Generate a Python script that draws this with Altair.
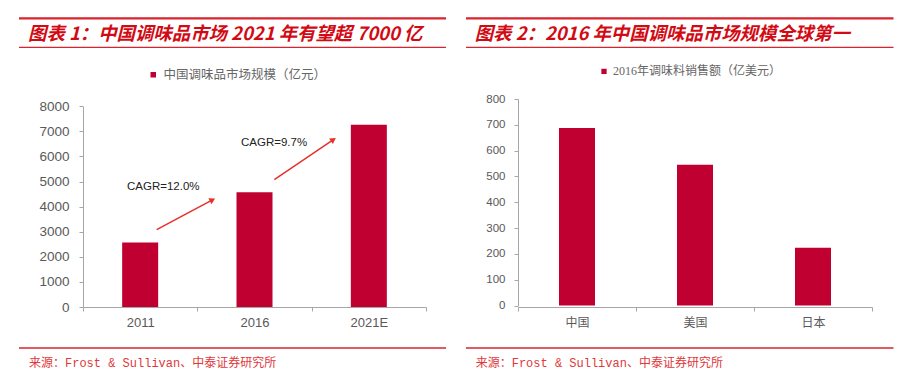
import math
import altair as alt
import pandas as pd

# ---------------- data ----------------
years = ["2011", "2016", "2021E"]
market_size = [2570, 4570, 7260]          # 亿元
countries = ["中国", "美国", "日本"]
sales_2016 = [688, 545, 224]               # 亿美元
cagr_labels = ["CAGR=12.0%", "CAGR=9.7%"]

title1 = "图表 1：中国调味品市场 2021 年有望超 7000 亿"
title2 = "图表 2：2016 年中国调味品市场规模全球第一"
legend1 = "中国调味品市场规模（亿元）"
legend2 = "2016年调味料销售额（亿美元）"
source_text = "来源：Frost & Sullivan、中泰证券研究所"

# ---------------- styles ----------------
BAR = "#C00030"
TITLE_RED = "#D20A14"
LINE_RED = "#D9232D"
SRC_RED = "#E0383B"
ARROW_RED = "#E8302B"
GREY = "#595959"
AXIS_GREY = "#A6A6A6"
LEGEND_GREY = "#666666"
CJK = "Noto Sans CJK SC"
SRC_FONT = "Liberation Mono, Noto Sans CJK SC"

one = pd.DataFrame({"k": [0]})


def hline(x1, x2, y, w):
    return alt.Chart(one).mark_rule(color=LINE_RED, strokeWidth=w).encode(
        x=alt.value(x1), x2=alt.value(x2), y=alt.value(y))


def label(text, x, y, **kw):
    return alt.Chart(pd.DataFrame({"t": [text]})).mark_text(
        align="left", baseline="middle", **kw).encode(
        text="t:N", x=alt.value(x), y=alt.value(y))


def arrow(x0, y0, x1, y1):
    dx, dy = x1 - x0, y1 - y0
    L = math.hypot(dx, dy)
    ux, uy = dx / L, dy / L
    ang = math.degrees(math.atan2(dx, -dy))
    bx, by = x1 - 4 * ux, y1 - 4 * uy
    line = alt.Chart(one).mark_rule(color=ARROW_RED, strokeWidth=1.5).encode(
        x=alt.value(x0), y=alt.value(y0), x2=alt.value(bx), y2=alt.value(by))
    head = alt.Chart(one).mark_point(shape="triangle-up", filled=True, size=45,
                                     angle=ang, color=ARROW_RED, opacity=1).encode(
        x=alt.value(bx), y=alt.value(by))
    return line + head


def x_axis(fs, pad, font):
    return alt.Axis(title=None, labelAngle=0, tickBand="extent", ticks=True, tickSize=4,
                    labelPadding=pad, labelFontSize=fs, labelFont=font, labelColor=GREY,
                    domainColor=AXIS_GREY, tickColor=AXIS_GREY)


def y_axis(vals, fs, pad):
    return alt.Axis(title=None, values=vals, format="d", grid=False, tickSize=4,
                    labelPadding=pad, labelFontSize=fs, labelFont="Liberation Sans",
                    labelColor=GREY, domainColor=AXIS_GREY, tickColor=AXIS_GREY)


# common plot origin (page y ~98) for both panels
H = 208

# ---------------- panel 1 ----------------
W1 = 343
df1 = pd.DataFrame({"year": years, "value": market_size, "series": legend1})
bars1 = alt.Chart(df1).mark_bar(size=36).encode(
    x=alt.X("year:N", sort=years, scale=alt.Scale(paddingInner=0, paddingOuter=0),
            axis=x_axis(13, 5, "Liberation Sans")),
    y=alt.Y("value:Q", scale=alt.Scale(domain=[0, 8000], nice=False, range=[H, 7.2]),
            axis=y_axis(list(range(0, 8001, 1000)), 13.5, 10)),
    color=alt.Color("series:N", scale=alt.Scale(range=[BAR]),
                    legend=alt.Legend(orient="none", legendX=64, legendY=-30.5, title=None,
                                      symbolType="square", symbolSize=30, symbolStrokeWidth=0,
                                      labelFont=CJK, labelFontSize=12.5, labelColor=LEGEND_GREY,
                                      labelOffset=4, padding=0, labelLimit=400)),
)
panel1 = alt.layer(
    bars1,
    hline(-64, 363, -80.6, 2.2),
    hline(-64, 363, -51.6, 1.2),
    hline(-64, 363, 249, 1.6),
    label(title1, -55, -65, font=CJK, fontSize=18.4, fontWeight="bold",
          fontStyle="italic", color=TITLE_RED),
    label(source_text, -54, 264, font=SRC_FONT, fontSize=12, color=SRC_RED),
    label(cagr_labels[0], 44, 88.4, font="Liberation Sans", fontSize=11.5, color="#222222"),
    label(cagr_labels[1], 158, 44, font="Liberation Sans", fontSize=11.5, color="#222222"),
    arrow(73.7, 130.7, 133, 99),
    arrow(191.3, 80.7, 253.7, 38.4),
).properties(width=W1, height=H)

# ---------------- panel 2 ----------------
W2 = 354
df2 = pd.DataFrame({"country": countries, "value": sales_2016, "series": legend2})
bars2 = alt.Chart(df2).mark_bar(size=36).encode(
    x=alt.X("country:N", sort=countries, scale=alt.Scale(paddingInner=0, paddingOuter=0),
            axis=x_axis(12, 6, CJK)),
    y=alt.Y("value:Q", scale=alt.Scale(domain=[0, 800], nice=False, range=[H - 1.5, 0]),
            axis=y_axis(list(range(0, 801, 100)), 11.5, 9)),
    color=alt.Color("series:N", scale=alt.Scale(range=[BAR]),
                    legend=alt.Legend(orient="none", legendX=80, legendY=-33.6, title=None,
                                      symbolType="square", symbolSize=28, symbolStrokeWidth=0,
                                      labelFont="Liberation Serif, Noto Sans CJK SC",
                                      labelFontSize=12, labelColor=LEGEND_GREY,
                                      labelOffset=3, padding=0, labelLimit=400)),
)
panel2 = alt.layer(
    bars2,
    hline(-52, 375.5, -80.6, 2.2),
    hline(-52, 375.5, -51.6, 1.2),
    hline(-52, 375.5, 249, 1.6),
    label(title2, -43.3, -65, font=CJK, fontSize=18.4, fontWeight="bold",
          fontStyle="italic", color=TITLE_RED),
    label(source_text, -42.3, 264, font=SRC_FONT, fontSize=12, color=SRC_RED),
).properties(width=W2, height=H)

chart = alt.hconcat(panel1, panel2, spacing=16).resolve_scale(color="independent").properties(
    padding={"left": 9, "top": 9, "right": 0, "bottom": 4}
).configure_view(stroke=None)

chart.save("out.html", embed_options={"renderer": "svg", "actions": False})
